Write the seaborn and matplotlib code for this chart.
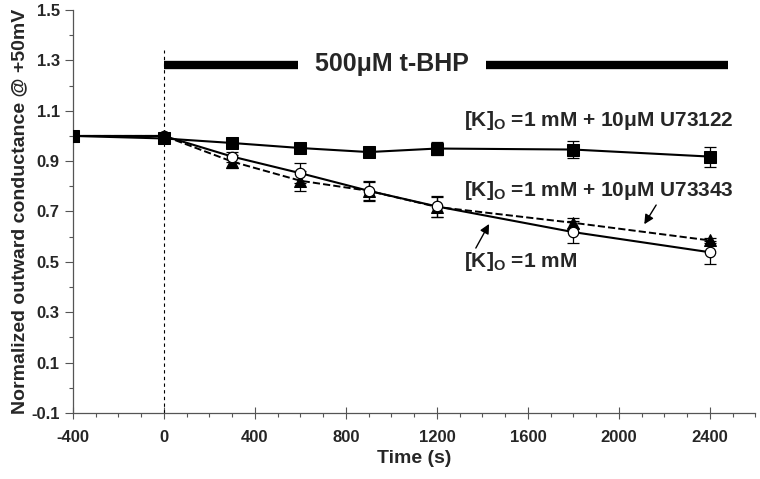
import numpy as np
import pandas as pd
import matplotlib
matplotlib.use("Agg")
import matplotlib.pyplot as plt
import seaborn as sns

# data
time_s = [-400, 0, 300, 600, 900, 1200, 1800, 2400]
g_u73122 = [1.0, 0.99, 0.972, 0.952, 0.936, 0.950, 0.946, 0.918]
err_u73122 = [0.0, 0.01, 0.012, 0.012, 0.018, 0.025, 0.035, 0.04]
g_k1 = [1.0, 1.0, 0.918, 0.852, 0.782, 0.720, 0.618, 0.538]
err_k1 = [0.0, 0.01, 0.02, 0.04, 0.04, 0.04, 0.045, 0.045]
g_u73343 = [1.0, 1.0, 0.898, 0.822, 0.782, 0.718, 0.655, 0.585]
err_u73343 = [0.0, 0.01, 0.025, 0.04, 0.035, 0.04, 0.02, 0.01]

sns.set_style("ticks")
plt.rcParams["font.family"] = ["Liberation Sans", "DejaVu Sans"]
plt.rcParams["font.weight"] = "bold"
plt.rcParams["axes.unicode_minus"] = False
plt.rcParams["mathtext.fontset"] = "custom"
plt.rcParams["mathtext.rm"] = "Liberation Sans:bold"
plt.rcParams["mathtext.bf"] = "Liberation Sans:bold"
plt.rcParams["mathtext.it"] = "Liberation Sans:bold"

df = pd.DataFrame({"t": time_s * 3,
                   "g": g_u73122 + g_k1 + g_u73343,
                   "grp": ["u73122"] * 8 + ["k1"] * 8 + ["u73343"] * 8})

fig = plt.figure(figsize=(7.6, 4.79), dpi=100)
ax = fig.add_axes([0.096, 0.138, 0.898, 0.841])

# error bars first, lines and markers on top
for g, e in [(g_u73122, err_u73122), (g_k1, err_k1), (g_u73343, err_u73343)]:
    ax.errorbar(time_s, g, yerr=e, fmt="none", ecolor="black", elinewidth=0.9,
                capsize=4, capthick=0.9, zorder=2)

sns.lineplot(data=df[df.grp == "u73343"], x="t", y="g", ax=ax, color="black",
             linestyle="--", lw=1.4, marker="^", markersize=8,
             markerfacecolor="black", markeredgecolor="black", zorder=3)
sns.lineplot(data=df[df.grp == "k1"], x="t", y="g", ax=ax, color="black",
             lw=1.5, marker="o", markersize=7.5, markerfacecolor="white",
             markeredgecolor="black", markeredgewidth=0.9, zorder=4)
sns.lineplot(data=df[df.grp == "u73122"], x="t", y="g", ax=ax, color="black",
             lw=1.5, marker="s", markersize=8, markerfacecolor="black",
             markeredgecolor="black", zorder=5)

# t-BHP application
ax.plot([0, 0], [-0.1, 1.34], color="black", lw=0.8, ls=(0, (3, 3)), zorder=1)
ax.plot([0, 590], [1.28, 1.28], color="black", lw=6, solid_capstyle="butt")
ax.plot([1415, 2480], [1.28, 1.28], color="black", lw=6, solid_capstyle="butt")
ax.text(1000, 1.285, "500μM t-BHP", ha="center", va="center", fontsize=18,
        fontweight="bold")

# labels for the traces
ax.text(1320, 1.06, r"[K]$_\mathrm{O}$ =1 mM + 10μM U73122", fontsize=15,
        fontweight="bold", va="center")
ax.text(1320, 0.785, r"[K]$_\mathrm{O}$ =1 mM + 10μM U73343", fontsize=15,
        fontweight="bold", va="center")
ax.text(1320, 0.50, r"[K]$_\mathrm{O}$ =1 mM", fontsize=15,
        fontweight="bold", va="center")
ax.annotate("", xy=(2105, 0.64), xytext=(2170, 0.735),
            arrowprops=dict(arrowstyle="-|>", color="black", lw=1, mutation_scale=14))
ax.annotate("", xy=(1435, 0.66), xytext=(1365, 0.545),
            arrowprops=dict(arrowstyle="-|>", color="black", lw=1, mutation_scale=14))

ax.set_xlim(-400, 2600)
ax.set_ylim(-0.1, 1.5)
ax.set_xticks(np.arange(-400, 2401, 400))
ax.set_xticks(np.arange(-400, 2601, 100), minor=True)
ax.set_yticks(np.round(np.arange(-0.1, 1.51, 0.2), 1))
ax.set_yticks(np.round(np.arange(-0.1, 1.51, 0.1), 1), minor=True)
ax.set_yticklabels([f"{v:.1f}" for v in np.arange(-0.1, 1.51, 0.2)])
ax.tick_params(axis="both", which="major", labelsize=12, length=6, width=0.8,
               color="#555555")
ax.tick_params(axis="x", which="major", direction="inout", length=8, pad=8)
ax.tick_params(axis="both", which="minor", length=3, width=0.8, color="#555555")
for lab in ax.get_xticklabels() + ax.get_yticklabels():
    lab.set_fontweight("bold")

ax.set_xlabel("Time (s)", fontsize=14, fontweight="bold", labelpad=4)
ax.set_ylabel("Normalized outward conductance @ +50mV", fontsize=14,
              fontweight="bold", labelpad=2)
sns.despine(ax=ax)
for s in ["left", "bottom"]:
    ax.spines[s].set_color("#555555")
    ax.spines[s].set_linewidth(0.9)

fig.savefig("out.png", dpi=100)
